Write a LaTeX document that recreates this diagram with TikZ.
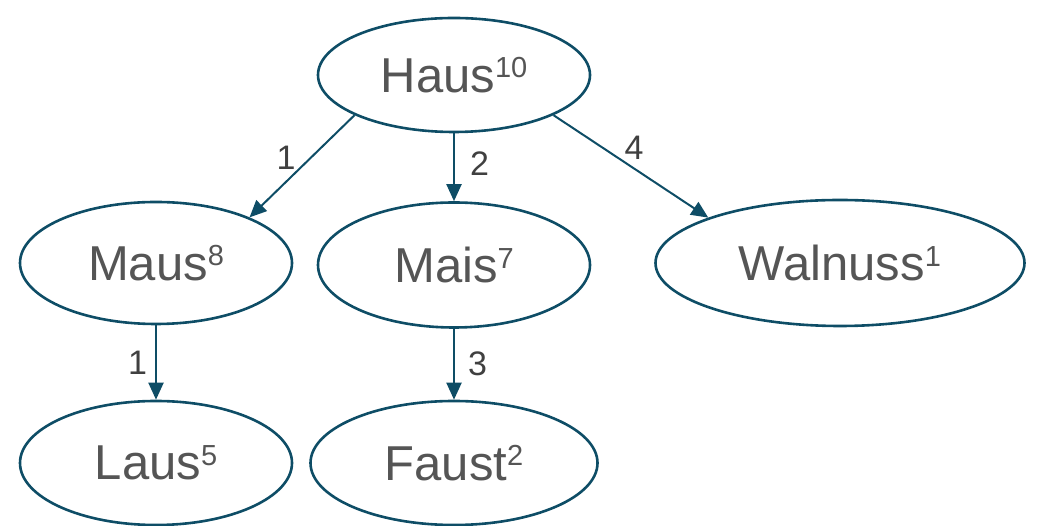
\documentclass[tikz,border=0pt]{standalone}
\usepackage{fontspec}
\setmainfont{Liberation Sans}
\usetikzlibrary{shapes.geometric,arrows.meta}
\definecolor{edgeteal}{HTML}{0E4D66}
\definecolor{nodetext}{HTML}{555555}
\definecolor{labeltext}{HTML}{404040}
\newcommand\wordsup[2]{#1{\fontsize{29}{29}\selectfont\raisebox{14.5pt}{#2}}}
\tikzset{
  wordnode/.style={ellipse, draw=edgeteal, line width=2.6pt, inner sep=0pt,
    text=nodetext, font=\fontsize{49}{56}\selectfont},
  linkarrow/.style={draw=edgeteal, line width=2pt,
    -{Triangle[length=17pt,width=15pt]}},
  weight/.style={text=labeltext, inner sep=0pt, font=\fontsize{34}{34}\selectfont}
}
\begin{document}
\begin{tikzpicture}[x=1pt,y=1pt]
\useasboundingbox (0,0) rectangle (1040,526);
\node[wordnode, minimum width=272pt, minimum height=114pt] (haus) at (454,451) {\wordsup{Haus}{10}};
\node[wordnode, minimum width=272pt, minimum height=122pt] (maus) at (156,263) {\wordsup{Maus}{8}};
\node[wordnode, minimum width=272pt, minimum height=125pt] (mais) at (454,261) {\wordsup{Mais}{7}};
\node[wordnode, minimum width=369pt, minimum height=126pt] (walnuss) at (840,263) {\wordsup{Walnuss}{1}};
\node[wordnode, minimum width=272pt, minimum height=124pt] (laus) at (156,63) {\wordsup{Laus}{5}};
\node[wordnode, minimum width=287pt, minimum height=124pt] (faust) at (454,63) {\wordsup{Faust}{2}};
\draw[linkarrow] (haus.202) -- node[weight, pos=0.42, left=14pt] {1} (maus.26);
\draw[linkarrow] (haus.south) -- node[weight, pos=0.44, right=15pt] {2} (mais.north);
\draw[linkarrow] (haus.338) -- node[weight, pos=0.52, above=8pt] {4} (walnuss.161);
\draw[linkarrow] (maus.south) -- node[weight, pos=0.5, left=8pt] {1} (laus.north);
\draw[linkarrow] (mais.south) -- node[weight, pos=0.5, right=13pt] {3} (faust.north);
\end{tikzpicture}
\end{document}
